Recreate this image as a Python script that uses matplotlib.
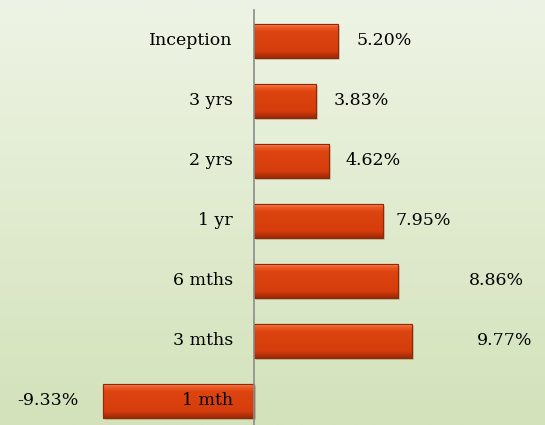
import matplotlib.pyplot as plt
import numpy as np
from matplotlib.colors import LinearSegmentedColormap

categories = ['Inception', '3 yrs', '2 yrs', '1 yr', '6 mths', '3 mths', '1 mth']
returns = [5.20, 3.83, 4.62, 7.95, 8.86, 9.77, -9.33]
labels = ['5.20%', '3.83%', '4.62%', '7.95%', '8.86%', '9.77%', '-9.33%']
# where Excel put the data labels (x, in % units)
label_x = [8.02, 6.60, 7.35, 10.43, 14.94, 15.49, -12.72]

plt.rcParams['font.family'] = ['DejaVu Serif']

fig = plt.figure(figsize=(5.45, 4.25), dpi=100)
ax = fig.add_axes([0, 0, 1, 1])
ax.set_xlim(-15.68, 17.96)
ax.set_ylim(6.4, -0.683)
ax.axis('off')

# background gradient
bg = LinearSegmentedColormap.from_list('bg', ['#eef4e5', '#d3e2ba'])
grad = np.linspace(0, 1, 256).reshape(-1, 1)
ax.imshow(grad, cmap=bg, aspect='auto', extent=(-15.68, 17.96, 6.4, -0.683), zorder=0)

y = np.arange(len(categories))
h = 0.567

# soft shadow
ax.barh(y + 0.04, returns, height=h, left=0.12, color='#7a6a50', alpha=0.25, zorder=1)

bars = ax.barh(y, returns, height=h, color='#d9410f', edgecolor='#8e2a08', linewidth=0.8, zorder=2)

# bevel shading on each bar
barcm = LinearSegmentedColormap.from_list('bar', [(0, '#f7936a'), (0.12, '#ee5a25'),
                                                   (0.25, '#dc4410'), (0.8, '#d63d0c'),
                                                   (0.9, '#b8320a'), (1, '#9a2a08')])
for b in bars:
    x0, y0 = b.get_x(), b.get_y()
    w, hh = b.get_width(), b.get_height()
    im = ax.imshow(grad, cmap=barcm, aspect='auto',
                   extent=(x0, x0 + w, y0 + hh, y0), zorder=3)
    im.set_clip_path(b)
    ax.barh(y0 + hh / 2, w, left=x0, height=hh, color='none',
            edgecolor='#8e2a08', linewidth=0.8, zorder=4)

ax.axvline(0, ymin=0, ymax=0.976, color='#8c8c8c', linewidth=1.2, zorder=5)

for i, cat in enumerate(categories):
    ax.text(-1.3, y[i], cat, ha='right', va='center', fontsize=12.5, color='black', zorder=6)
    ax.text(label_x[i], y[i], labels[i], ha='center', va='center', fontsize=12.5,
            color='black', zorder=6)

fig.savefig('out.png', dpi=100)
